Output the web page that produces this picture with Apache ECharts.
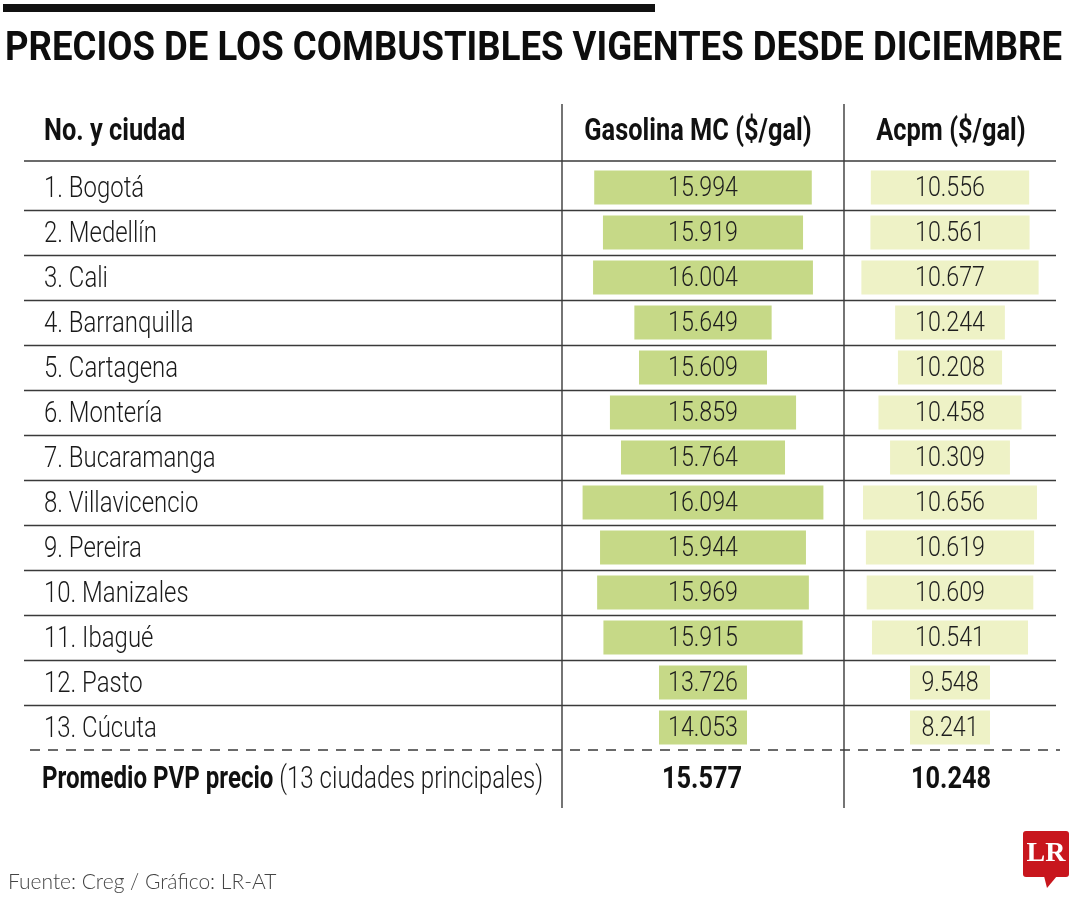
<!DOCTYPE html>
<html><head><meta charset="utf-8">
<script src="https://cdn.jsdelivr.net/npm/echarts@6/dist/echarts.min.js"></script>
<style>html,body{margin:0;padding:0;background:#fff}#c{width:1080px;height:900px}</style>
</head><body><div id="c"></div>
<script>
// ---- data ----
const cities = ['1. Bogotá', '2. Medellín', '3. Cali', '4. Barranquilla', '5. Cartagena', '6. Montería',
  '7. Bucaramanga', '8. Villavicencio', '9. Pereira', '10. Manizales', '11. Ibagué', '12. Pasto', '13. Cúcuta'];
const gasolina = [15994, 15919, 16004, 15649, 15609, 15859, 15764, 16094, 15944, 15969, 15915, 13726, 14053];
const acpm = [10556, 10561, 10677, 10244, 10208, 10458, 10309, 10656, 10619, 10609, 10541, 9548, 8241];
const promedio = [15577, 10248];
const headers = ['No. y ciudad', 'Gasolina MC ($/gal)', 'Acpm ($/gal)'];
const title = 'PRECIOS DE LOS COMBUSTIBLES VIGENTES DESDE DICIEMBRE';
const footLabelBold = 'Promedio PVP precio';
const footLabelRest = '(13 ciudades principales)';
const source = 'Fuente: Creg / Gráfico: LR-AT';

// ---- scale / style settings ----
const GAS_BASE = 15059, GAS_SPAN = 1212, GAS_MIN_HALF = 44;
const ACPM_BASE = 9540, ACPM_SPAN = 1360, ACPM_MIN_HALF = 40;
const FAM = 'Roboto, "Liberation Sans", sans-serif';
const LINE = '#3a3a3a';

const mctx = document.createElement('canvas').getContext('2d');
function measure(text, weight, size) { mctx.font = weight + ' ' + size + 'px ' + FAM; return mctx.measureText(text).width; }
function fit(text, weight, size, target) { return target / measure(text, weight, size); }

const ROW_SIZE = 30, VAL_SIZE = 28, HEAD_SIZE = 32, TITLE_SIZE = 41;
const rowScale = (113 + 146 + 145) / (measure(cities[0], 300, ROW_SIZE) + measure(cities[7], 300, ROW_SIZE) + measure(cities[3], 300, ROW_SIZE));
const valScale = fit('15.994', 300, VAL_SIZE, 70);
const headScale = (142 + 227 + 149) / (measure(headers[0], 700, HEAD_SIZE) + measure(headers[1], 700, HEAD_SIZE) + measure(headers[2], 700, HEAD_SIZE));
const titleScale = fit(title, 700, TITLE_SIZE, 1057);
const footScale = 501 / (measure(footLabelBold, 700, HEAD_SIZE) + measure(' ' + footLabelRest, 300, HEAD_SIZE));

function fmt(v) { return String(v).replace(/\B(?=(\d{3})+(?!\d))/g, '.'); }

function makeRender(minHalf, color) {
  return function (params, api) {
    const row = api.value(1);
    const raw = api.value(2);
    const c0 = api.coord([0, row]);
    const c1 = api.coord([api.value(0), row]);
    const half = Math.max(c1[0] - c0[0], minHalf);
    const h = api.size([0, 1])[1] * 0.76;
    return {
      type: 'group', children: [
        { type: 'rect', shape: { x: c0[0] - half, y: c0[1] - h / 2, width: 2 * half, height: h }, style: { fill: color } },
        { type: 'text', x: c0[0], y: c0[1] + 1.5, scaleX: valScale, style: { text: fmt(raw), align: 'center', verticalAlign: 'middle',
          fontFamily: FAM, fontWeight: 300, fontSize: VAL_SIZE, fill: '#1e1e1e' } }
      ]
    };
  };
}

function txt(x, y, text, weight, size, scale, align, fill) {
  return { type: 'text', x: x, y: y, scaleX: scale, style: { text: text, fontFamily: FAM, fontWeight: weight,
    fontSize: size, fill: fill || '#111', align: align, verticalAlign: 'middle' } };
}

const chart = echarts.init(document.getElementById('c'), null, { renderer: 'canvas' });
const gridTop = 165, gridBottom = 150;
const hiddenY = (idx) => ({ type: 'category', gridIndex: idx, data: cities, inverse: true,
  axisLine: { show: false }, axisTick: { show: false }, axisLabel: { show: false }, splitLine: { show: false } });

chart.setOption({
  animation: false,
  backgroundColor: '#fff',
  grid: [
    { left: 24, right: 24, top: gridTop, bottom: gridBottom },
    { left: 562, right: 236, top: gridTop, bottom: gridBottom },
    { left: 844, right: 24, top: gridTop, bottom: gridBottom }
  ],
  xAxis: [
    { type: 'value', gridIndex: 0, min: 0, max: 1, show: false },
    { type: 'value', gridIndex: 1, min: -GAS_SPAN, max: GAS_SPAN, show: false },
    { type: 'value', gridIndex: 2, min: -ACPM_SPAN, max: ACPM_SPAN, show: false }
  ],
  yAxis: [
    { type: 'category', gridIndex: 0, data: cities, inverse: true,
      axisLine: { show: false }, axisTick: { show: false }, axisLabel: { show: false },
      splitLine: { show: true, showMinLine: false, showMaxLine: false, lineStyle: { color: LINE, width: 1.4 } } },
    hiddenY(1), hiddenY(2)
  ],
  series: [
    { type: 'custom', xAxisIndex: 0, yAxisIndex: 0, encode: { x: 0, y: 1 },
      data: cities.map((c, i) => [0, i]),
      renderItem: function (params, api) {
        const p = api.coord([0, api.value(1)]);
        return txt(p[0] + 20, p[1] + 2, cities[params.dataIndex], 300, ROW_SIZE, rowScale, 'left', '#1a1a1a');
      } },
    { type: 'custom', xAxisIndex: 1, yAxisIndex: 1, renderItem: makeRender(GAS_MIN_HALF, '#c6d987'),
      encode: { x: 0, y: 1 }, data: gasolina.map((v, i) => [v - GAS_BASE, i, v]) },
    { type: 'custom', xAxisIndex: 2, yAxisIndex: 2, renderItem: makeRender(ACPM_MIN_HALF, '#eef2c6'),
      encode: { x: 0, y: 1 }, data: acpm.map((v, i) => [v - ACPM_BASE, i, v]) }
  ],
  graphic: { elements: [
    { type: 'rect', shape: { x: 3, y: 4, width: 652, height: 8 }, style: { fill: '#111' } },
    txt(5, 50, title, 700, TITLE_SIZE, titleScale, 'left', '#0d0d0d'),
    txt(44, 132, headers[0], 700, HEAD_SIZE, headScale, 'left'),
    txt(698, 132, headers[1], 700, HEAD_SIZE, headScale, 'center'),
    txt(951, 132, headers[2], 700, HEAD_SIZE, headScale, 'center'),
    { type: 'line', shape: { x1: 24, y1: 161, x2: 1056, y2: 161 }, style: { stroke: LINE, lineWidth: 1.4 } },
    { type: 'line', shape: { x1: 30, y1: 750, x2: 1060, y2: 750 }, style: { stroke: LINE, lineWidth: 1.4, lineDash: [10, 8] } },
    { type: 'line', shape: { x1: 562, y1: 104, x2: 562, y2: 808 }, style: { stroke: LINE, lineWidth: 1.4 } },
    { type: 'line', shape: { x1: 844, y1: 104, x2: 844, y2: 808 }, style: { stroke: LINE, lineWidth: 1.4 } },
    { type: 'text', x: 42, y: 780, scaleX: footScale, style: {
      text: '{b|' + footLabelBold + '}{n| ' + footLabelRest + '}', verticalAlign: 'middle', align: 'left',
      rich: { b: { fontFamily: FAM, fontWeight: 700, fontSize: HEAD_SIZE, fill: '#111' },
              n: { fontFamily: FAM, fontWeight: 300, fontSize: HEAD_SIZE, fill: '#1a1a1a' } } } },
    txt(702, 780, fmt(promedio[0]), 700, HEAD_SIZE, headScale, 'center'),
    txt(951, 780, fmt(promedio[1]), 700, HEAD_SIZE, headScale, 'center'),
    { type: 'text', x: 8, y: 882, style: { text: source, fontFamily: 'Lato, sans-serif', fontWeight: 300, fontSize: 21,
      fill: '#444', align: 'left', verticalAlign: 'middle' } },
    { type: 'rect', shape: { x: 1023, y: 831, width: 46, height: 46, r: 3 }, style: { fill: '#c8161d' } },
    { type: 'polygon', shape: { points: [[1044, 876], [1057, 876], [1047, 888]] }, style: { fill: '#c8161d' } },
    { type: 'text', x: 1046, y: 854, style: { text: 'LR', fontFamily: '"Liberation Serif", serif', fontWeight: 'bold',
      fontSize: 28, fill: '#fff', align: 'center', verticalAlign: 'middle' } }
  ] }
});
</script></body></html>
